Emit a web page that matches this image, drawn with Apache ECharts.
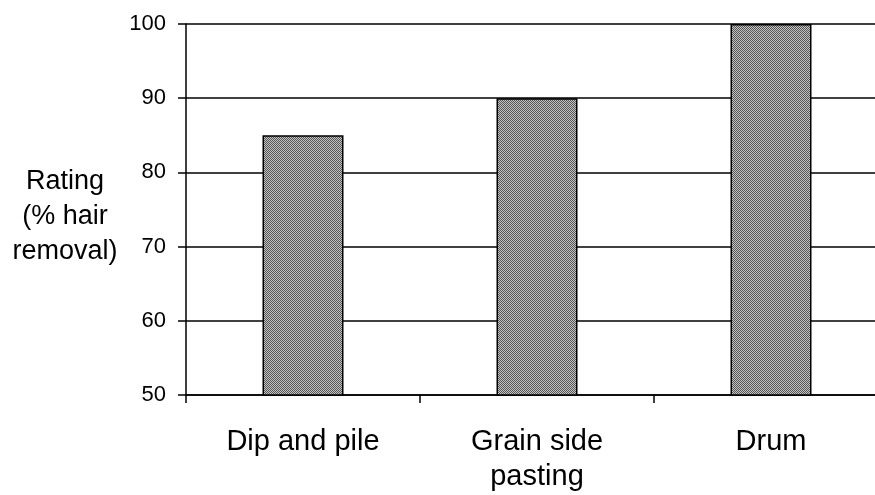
<!DOCTYPE html>
<html><head><meta charset="utf-8">
<script src="https://cdn.jsdelivr.net/npm/echarts@6/dist/echarts.min.js"></script>
<style>html,body{margin:0;padding:0;background:#fff}#c{width:875px;height:495px}</style>
</head><body><div id="c"></div>
<script>
const categories = ['Dip and pile', 'Grain side\npasting', 'Drum'];
const ratings = [85, 90, 100];
const yTicks = [50, 60, 70, 80, 90, 100];
const yTitle = 'Rating\n(% hair\nremoval)';

const pc = document.createElement('canvas');
pc.width = 2; pc.height = 2;
const g = pc.getContext('2d');
g.fillStyle = '#c4c4c4'; g.fillRect(0,0,2,2);
g.fillStyle = '#555555'; g.fillRect(0,0,1,1); g.fillRect(1,1,1,1);

const FF = 'Liberation Sans, Arial, sans-serif';
const chart = echarts.init(document.getElementById('c'), null, {renderer:'canvas'});
chart.setOption({
  animation: false,
  grid: {left: 186, top: 24, right: -13, bottom: 100, containLabel: false, outerBoundsMode: 'none'},
  xAxis: {
    type: 'category', data: categories,
    axisLine: {lineStyle: {color: '#000', width: 1.5}},
    axisTick: {show: true, length: 8, lineStyle: {color: '#000', width: 1.5}, alignWithLabel: false},
    axisLabel: {color: '#000', fontSize: 29, fontFamily: FF, margin: 29, lineHeight: 35, interval: 0}
  },
  yAxis: {
    type: 'value', min: yTicks[0], max: yTicks[yTicks.length-1], interval: 10,
    axisLine: {show: true, lineStyle: {color: '#000', width: 1.5}},
    axisTick: {show: true, length: 8, lineStyle: {color: '#000', width: 1.5}},
    axisLabel: {color: '#000', fontSize: 22, fontFamily: FF, margin: 20},
    splitLine: {show: true, lineStyle: {color: '#000', width: 1.5}}
  },
  graphic: [{
    type: 'text', x: 65, y: 164,
    style: {text: yTitle, fontSize: 27, fontFamily: FF, fill: '#000', align: 'center', verticalAlign: 'top', lineHeight: 35}
  }],
  series: [{
    type: 'bar', data: ratings, barWidth: 81,
    itemStyle: {color: {image: pc, repeat: 'repeat'}, borderColor: '#000', borderWidth: 1.5}
  }]
});
</script></body></html>
